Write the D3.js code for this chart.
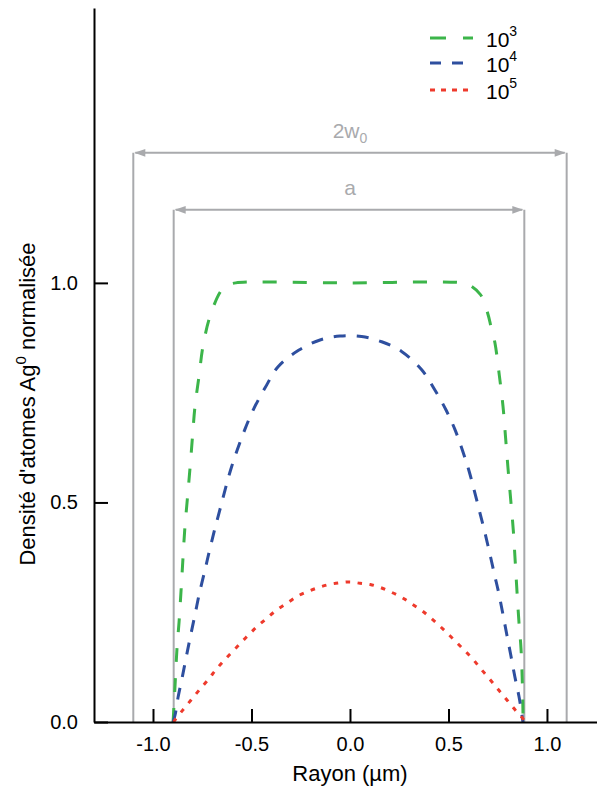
<!DOCTYPE html>
<html>
<head>
<meta charset="utf-8">
<script src="https://cdn.jsdelivr.net/npm/d3@7"></script>
<style>
  html, body { margin: 0; padding: 0; background: #fff; }
  svg { display: block; font-family: "Liberation Sans", Arial, sans-serif; }
</style>
</head>
<body>
<svg id="chart" width="597" height="787"></svg>
<script>
// ---- data ----
const xTicks = [-1.0, -0.5, 0.0, 0.5, 1.0];
const yTicks = [0.0, 0.5, 1.0];
const seriesNames = ["10^3", "10^4", "10^5"];

const green_x = [-0.898, -0.888, -0.878, -0.868, -0.858, -0.849, -0.839, -0.826, -0.812, -0.800, -0.787, -0.766, -0.745, -0.707, -0.651, -0.618, -0.58, 0.0, 0.57, 0.606, 0.663, 0.699, 0.716, 0.736, 0.758, 0.777, 0.790, 0.802, 0.816, 0.829, 0.839, 0.848, 0.858, 0.868, 0.875, 0.879];
const green_y = [0.000, 0.084, 0.169, 0.226, 0.296, 0.364, 0.437, 0.506, 0.579, 0.647, 0.718, 0.789, 0.859, 0.929, 0.984, 0.995, 1.000, 1.000, 1.000, 0.995, 0.973, 0.931, 0.900, 0.863, 0.790, 0.718, 0.647, 0.579, 0.506, 0.437, 0.364, 0.296, 0.226, 0.169, 0.089, 0.000];

const blue_x = [-0.898, -0.888, -0.872, -0.851, -0.829, -0.809, -0.787, -0.765, -0.741, -0.716, -0.690, -0.663, -0.635, -0.606, -0.572, -0.533, -0.491, -0.431, -0.365, -0.259, -0.152, -0.051, 0.059, 0.161, 0.262, 0.364, 0.431, 0.487, 0.532, 0.570, 0.603, 0.631, 0.658, 0.684, 0.709, 0.733, 0.756, 0.777, 0.797, 0.816, 0.837, 0.858, 0.873, 0.878];
const blue_y = [0.000, 0.016, 0.058, 0.103, 0.153, 0.197, 0.244, 0.292, 0.337, 0.385, 0.433, 0.479, 0.527, 0.574, 0.620, 0.667, 0.711, 0.761, 0.809, 0.847, 0.870, 0.879, 0.878, 0.866, 0.844, 0.802, 0.756, 0.711, 0.667, 0.620, 0.574, 0.527, 0.479, 0.433, 0.385, 0.337, 0.292, 0.244, 0.197, 0.153, 0.103, 0.058, 0.016, 0.000];

const red_x = [-0.895, -0.888, -0.851, -0.807, -0.765, -0.719, -0.677, -0.629, -0.580, -0.529, -0.477, -0.423, -0.372, -0.318, -0.265, -0.215, -0.161, -0.107, -0.054, 0.000, 0.051, 0.103, 0.156, 0.208, 0.262, 0.313, 0.367, 0.420, 0.474, 0.524, 0.575, 0.624, 0.670, 0.716, 0.758, 0.801, 0.843, 0.880, 0.885];
const red_y = [0.000, 0.005, 0.026, 0.050, 0.073, 0.097, 0.121, 0.145, 0.168, 0.192, 0.215, 0.236, 0.255, 0.271, 0.287, 0.297, 0.306, 0.313, 0.317, 0.319, 0.316, 0.313, 0.306, 0.296, 0.284, 0.269, 0.253, 0.233, 0.211, 0.189, 0.166, 0.143, 0.118, 0.094, 0.071, 0.048, 0.025, 0.006, 0.000];

// annotation widths (µm)
const w0_range = [-1.10, 1.10];
const a_range = [-0.895, 0.885];

// ---- layout ----
const svg = d3.select("#chart");
const x = d3.scaleLinear().domain([-1.2995, 1.254]).range([94, 597]);
const y = d3.scaleLinear().domain([0, 1.626]).range([722, 8]);

const gray = "#a9aaad";
const colors = ["#3cb54a", "#2e4f9f", "#ee3a2c"];
const dashes = ["14,16", "12,11", "4.5,7.5"];

// annotations: vertical lines and arrows
function dimension(range, yLevel, label, sub) {
  const g = svg.append("g");
  const yl = y(yLevel);
  [range[0], range[1]].forEach(v => {
    g.append("line").attr("x1", x(v)).attr("x2", x(v)).attr("y1", yl).attr("y2", y(0))
      .attr("stroke", gray).attr("stroke-width", 2);
  });
  g.append("line").attr("x1", x(range[0]) + 2).attr("x2", x(range[1]) - 2)
    .attr("y1", yl).attr("y2", yl).attr("stroke", gray).attr("stroke-width", 2);
  const xl = x(range[0]) + 1, xr = x(range[1]) - 1;
  g.append("path").attr("d", `M${xl},${yl} L${xl + 11},${yl - 3.8} L${xl + 11},${yl + 3.8} Z`).attr("fill", gray);
  g.append("path").attr("d", `M${xr},${yl} L${xr - 11},${yl - 3.8} L${xr - 11},${yl + 3.8} Z`).attr("fill", gray);
  const t = g.append("text").attr("x", x(0)).attr("y", yl - 15).attr("text-anchor", "middle")
    .attr("fill", gray).attr("font-size", 21).text(label);
  if (sub) t.append("tspan").attr("font-size", 14).attr("dy", 5).text(sub);
}
dimension(w0_range, (722 - 153) / 439, "2w", "0");
dimension(a_range, (722 - 210) / 439, "a", null);

// curves
const line = d3.line().x(d => x(d[0])).y(d => y(d[1])).curve(d3.curveCatmullRom.alpha(0.5));
const series = [
  d3.zip(green_x, green_y),
  d3.zip(blue_x, blue_y),
  d3.zip(red_x, red_y)
];
series.forEach((s, i) => {
  svg.append("path").datum(s).attr("d", line).attr("fill", "none")
    .attr("stroke", colors[i]).attr("stroke-width", 3)
    .attr("stroke-dasharray", dashes[i]).attr("stroke-linecap", "butt");
});

// axes
const fmt = d => d.toFixed(1);
const xAxis = svg.append("g").attr("transform", "translate(0,722)")
  .call(d3.axisBottom(x).tickValues(xTicks).tickFormat(fmt).tickSize(-13).tickSizeOuter(0).tickPadding(15));
const yAxis = svg.append("g").attr("transform", "translate(94,0)")
  .call(d3.axisLeft(y).tickValues(yTicks).tickFormat(fmt).tickSize(-14).tickSizeOuter(0).tickPadding(16));
[xAxis, yAxis].forEach(a => {
  a.selectAll("path.domain").attr("stroke", "#000").attr("stroke-width", 2);
  a.selectAll(".tick line").attr("stroke", "#000").attr("stroke-width", 2);
  a.selectAll(".tick text").attr("fill", "#000").attr("font-size", 20)
    .attr("font-family", "'Liberation Sans', Arial, sans-serif");
});

// axis titles
svg.append("text").attr("x", 350).attr("y", 781).attr("text-anchor", "middle")
  .attr("font-size", 22).attr("fill", "#000").text("Rayon (µm)");
const yt = svg.append("text").attr("transform", "translate(35,404) rotate(-90)")
  .attr("text-anchor", "middle").attr("font-size", 22).attr("fill", "#000");
yt.append("tspan").text("Densité d'atomes Ag");
yt.append("tspan").attr("font-size", 15).attr("dy", -9).text("0");
yt.append("tspan").attr("dy", 9).text(" normalisée");

// legend
const legend = svg.append("g");
const legY = [38, 63, 90];
const legSup = ["3", "4", "5"];
seriesNames.forEach((n, i) => {
  legend.append("line").attr("x1", 430).attr("x2", 473).attr("y1", legY[i]).attr("y2", legY[i])
    .attr("stroke", colors[i]).attr("stroke-width", 3).attr("stroke-dasharray", i === 0 ? "16,17" : (i === 1 ? "11,11" : "5,6"));
  const t = legend.append("text").attr("x", 486).attr("y", legY[i] + 9).attr("font-size", 21).attr("fill", "#000");
  t.append("tspan").text("10");
  t.append("tspan").attr("font-size", 14).attr("dy", -11).text(legSup[i]);
});
</script>
</body>
</html>
